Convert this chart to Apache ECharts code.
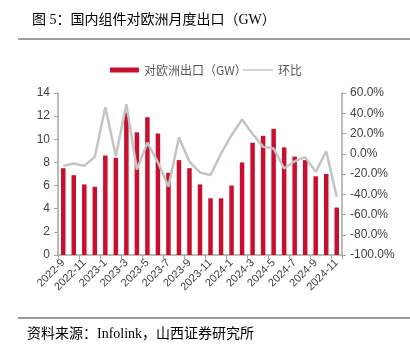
<!DOCTYPE html>
<html>
<head>
<meta charset="utf-8">
<script src="https://cdn.jsdelivr.net/npm/echarts@6/dist/echarts.min.js"></script>
<style>
  html, body { margin: 0; padding: 0; background: #fff; }
  #chart { width: 410px; height: 352px; }
</style>
</head>
<body>
<div id="chart"></div>
<script>
// months 2022-9 .. 2024-11
const months = [
  '2022-9', '2022-10', '2022-11', '2022-12', '2023-1', '2023-2', '2023-3', '2023-4', '2023-5',
  '2023-6', '2023-7', '2023-8', '2023-9', '2023-10', '2023-11', '2023-12', '2024-1', '2024-2',
  '2024-3', '2024-4', '2024-5', '2024-6', '2024-7', '2024-8', '2024-9', '2024-10', '2024-11'
]
// 对欧洲出口 (GW)
const exportGW = [
  7.5, 6.9, 6.1, 5.9, 8.6, 8.4, 12.3, 10.6, 11.9,
  10.5, 7.1, 8.2, 7.5, 6.1, 4.9, 4.9, 6.0, 8.0,
  9.7, 10.3, 10.9, 9.3, 8.5, 8.2, 6.8, 7.0, 4.1
]
// 环比 (%)
const momPct = [
  -12, -9.6, -12, -3, 46, -2.4, 49, -15.5, 11,
  -8.5, -32.7, 16, -8, -18.5, -21, 0.2, 18.3, 33.8,
  19.6, 6.8, 5.2, -14.6, -7.4, -3.4, -17.9, 2.5, -42.6
]

const chart = echarts.init(document.getElementById('chart'))
const axisGray = '#a6a6a6'
const labelColor = '#404040'
const legendText = { fontSize: 12, color: '#595959', fontFamily: '"Noto Sans CJK SC"' }

const opt = {
  animation: false,
  title: {
    text: '图 5：国内组件对欧洲月度出口（GW）',
    left: 27,
    top: 8,
    textStyle: {
      fontFamily: '"Liberation Serif", "Noto Sans CJK SC"',
      fontSize: 14,
      fontWeight: 'normal',
      color: '#000'
    }
  },
  graphic: [
    { type: 'line', shape: { x1: 18, y1: 39, x2: 410, y2: 39 }, style: { stroke: '#7f7f7f', lineWidth: 1.5 } },
    { type: 'line', shape: { x1: 18, y1: 318, x2: 410, y2: 318 }, style: { stroke: '#333', lineWidth: 1 } },
    {
      type: 'text', left: 27, top: 327,
      style: {
        text: '资料来源：Infolink，山西证券研究所',
        font: '14px "Liberation Serif", "Noto Sans CJK SC"',
        fill: '#000'
      }
    }
  ],
  legend: [
    {
      top: 59,
      left: 105,
      itemWidth: 29,
      itemHeight: 5,
      itemGap: 5,
      textStyle: legendText,
      data: [{ name: '对欧洲出口（GW）', icon: 'rect' }]
    },
    {
      top: 59,
      left: 238,
      itemWidth: 30,
      itemHeight: 1.5,
      itemGap: 5,
      textStyle: legendText,
      data: [{ name: '环比', icon: 'rect' }]
    }
  ],
  grid: { left: 58, right: 68, top: 93, bottom: 97 },
  xAxis: {
    type: 'category',
    data: months,
    axisLine: { lineStyle: { color: axisGray, width: 1.5 } },
    axisTick: { show: true, length: 4, lineStyle: { color: axisGray } },
    axisLabel: {
      interval: 1,
      rotate: 45,
      fontSize: 11,
      color: labelColor,
      fontFamily: 'Liberation Sans, Arial',
      margin: 6
    }
  },
  yAxis: [
    {
      type: 'value',
      min: 0, max: 14, interval: 2,
      splitLine: { show: false },
      axisLine: { show: true, lineStyle: { color: axisGray, width: 1.5 } },
      axisTick: { show: true, length: 4, lineStyle: { color: axisGray } },
      axisLabel: { fontSize: 12, color: labelColor, fontFamily: 'Liberation Sans, Arial', margin: 8 }
    },
    {
      type: 'value',
      min: -100, max: 60, interval: 20,
      splitLine: { show: false },
      axisLine: { show: true, lineStyle: { color: axisGray, width: 1.5 } },
      axisTick: { show: true, length: 4, lineStyle: { color: axisGray } },
      axisLabel: {
        fontSize: 12, color: labelColor, fontFamily: 'Liberation Sans, Arial', margin: 8,
        formatter: v => v.toFixed(1) + '%'
      }
    }
  ],
  series: [
    {
      name: '对欧洲出口（GW）',
      type: 'bar',
      data: exportGW,
      barWidth: 4.5,
      itemStyle: { color: '#c8102e' }
    },
    {
      name: '环比',
      type: 'line',
      yAxisIndex: 1,
      data: momPct,
      symbol: 'none',
      lineStyle: { color: '#c4c4c4', width: 2.5 },
      itemStyle: { color: '#c4c4c4' }
    }
  ]
}
chart.setOption(opt)
</script>
</body>
</html>
